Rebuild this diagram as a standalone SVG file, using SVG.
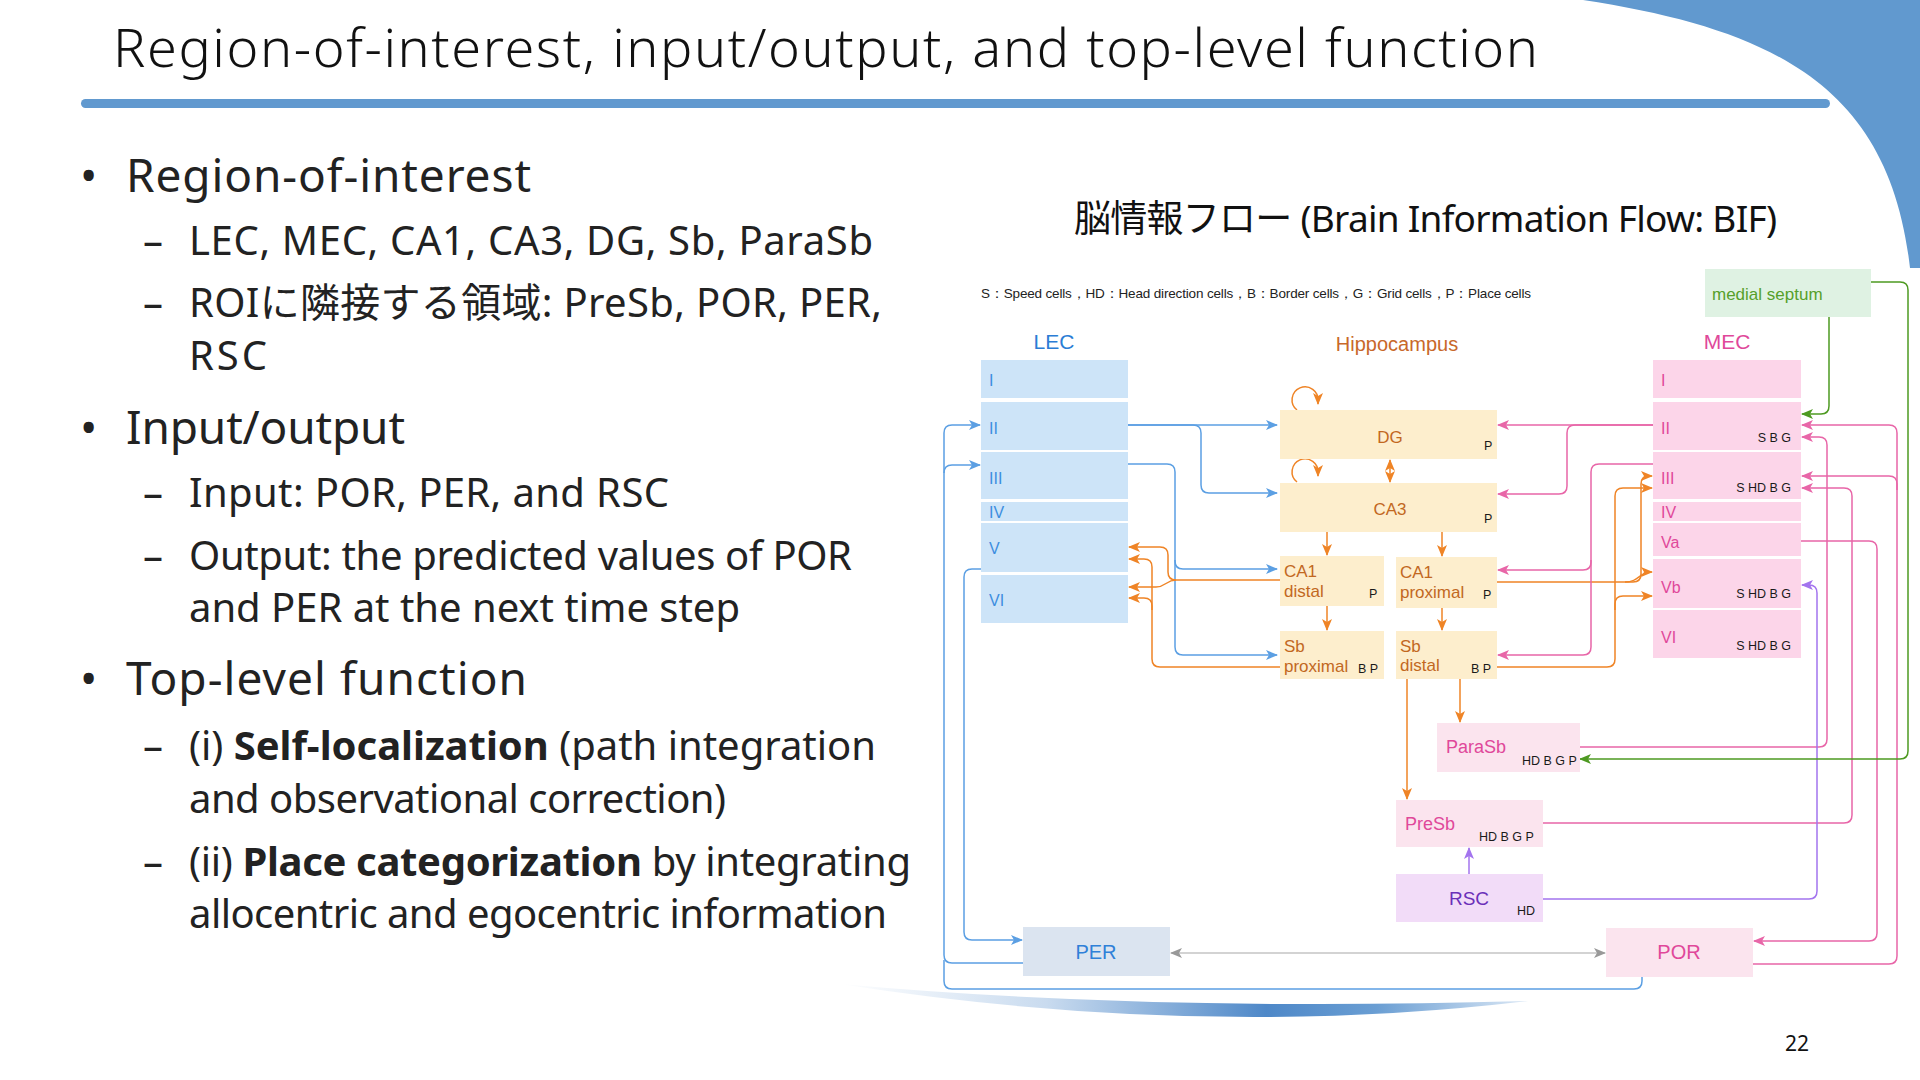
<svg xmlns="http://www.w3.org/2000/svg" width="1920" height="1080" viewBox="0 0 1920 1080">
<style>
.ttl{font-family:"Noto Sans","Noto Sans CJK JP",sans-serif;fill:#111}
.l1{font-family:"Noto Sans","Noto Sans CJK JP",sans-serif;font-size:46px;fill:#222}
.l2{font-family:"Noto Sans","Noto Sans CJK JP",sans-serif;font-size:40px;fill:#222}
.d{font-family:"Liberation Sans",Arial,sans-serif}
.lecT{font-size:16px;fill:#3d8ee0}
.mecT{font-size:16px;fill:#e0489a}
.hipT{font-size:17px;fill:#c2681f}
.ct{font-size:12.5px;fill:#1a1a1a}
.c{fill:none;stroke-width:1.5}
.cb{stroke:#5b9fe3;marker-end:url(#ab)}
.co{stroke:#ef8426;marker-end:url(#ao)}
.cp{stroke:#e866a8;marker-end:url(#ap)}
.cg{stroke:#4e9a22;marker-end:url(#ag)}
.cu{stroke:#a374ee;marker-end:url(#au)}
.nm{fill:none}
</style>
<defs>
<marker id="ab" viewBox="0 0 12 10" refX="11" refY="5" markerWidth="12" markerHeight="10" markerUnits="userSpaceOnUse" orient="auto"><path d="M0,0 L12,5 L0,10 L3,5 Z" fill="#5b9fe3"/></marker>
<marker id="ao" viewBox="0 0 12 10" refX="11" refY="5" markerWidth="12" markerHeight="10" markerUnits="userSpaceOnUse" orient="auto-start-reverse"><path d="M0,0 L12,5 L0,10 L3,5 Z" fill="#ef8426"/></marker>
<marker id="ap" viewBox="0 0 12 10" refX="11" refY="5" markerWidth="12" markerHeight="10" markerUnits="userSpaceOnUse" orient="auto"><path d="M0,0 L12,5 L0,10 L3,5 Z" fill="#e866a8"/></marker>
<marker id="ag" viewBox="0 0 12 10" refX="11" refY="5" markerWidth="12" markerHeight="10" markerUnits="userSpaceOnUse" orient="auto"><path d="M0,0 L12,5 L0,10 L3,5 Z" fill="#4e9a22"/></marker>
<marker id="au" viewBox="0 0 12 10" refX="11" refY="5" markerWidth="12" markerHeight="10" markerUnits="userSpaceOnUse" orient="auto"><path d="M0,0 L12,5 L0,10 L3,5 Z" fill="#a374ee"/></marker>
<marker id="ay" viewBox="0 0 12 10" refX="11" refY="5" markerWidth="12" markerHeight="10" markerUnits="userSpaceOnUse" orient="auto-start-reverse"><path d="M0,0 L12,5 L0,10 L3,5 Z" fill="#999"/></marker>
<linearGradient id="sw" x1="840" y1="0" x2="1528" y2="0" gradientUnits="userSpaceOnUse">
<stop offset="0" stop-color="#ffffff"/>
<stop offset="0.3" stop-color="#c9dbef"/>
<stop offset="0.62" stop-color="#4e88c8"/>
<stop offset="0.78" stop-color="#6a9ed3"/>
<stop offset="1" stop-color="#dce8f5"/>
</linearGradient>
</defs>

<!-- slide decoration -->
<g id="decor">
<path d="M1583,0 C1780,30 1890,90 1910,268 L1920,268 L1920,0 Z" fill="#6199cf"/>
<rect x="81" y="99" width="1749" height="9" rx="4.5" fill="#6199cf"/>
<path d="M840,984 Q1150,1012 1528,1001 Q1200,1040 840,984 Z" fill="url(#sw)"/>
</g>

<!-- title and text -->
<g id="title">
<text class="ttl" x="113" y="67" font-size="54" font-weight="300" textLength="1425">Region-of-interest, input/output, and top-level function</text>
</g>
<g id="bullets">
<text class="l1" x="80" y="192">•</text>
<text class="l1" x="126" y="192" textLength="405">Region-of-interest</text>
<text class="l2" x="143" y="255">–</text>
<text class="l2" x="189" y="255" textLength="684">LEC, MEC, CA1, CA3, DG, Sb, ParaSb</text>
<text class="l2" x="143" y="317">–</text>
<text class="l2" x="189" y="317" textLength="693">ROIに隣接する領域: PreSb, POR, PER,</text>
<text class="l2" x="189" y="370" textLength="78">RSC</text>
<text class="l1" x="80" y="444">•</text>
<text class="l1" x="126" y="444" textLength="279">Input/output</text>
<text class="l2" x="143" y="507">–</text>
<text class="l2" x="189" y="507" textLength="480">Input: POR, PER, and RSC</text>
<text class="l2" x="143" y="570">–</text>
<text class="l2" x="189" y="570" textLength="663">Output: the predicted values of POR</text>
<text class="l2" x="189" y="622" textLength="551">and PER at the next time step</text>
<text class="l1" x="80" y="695">•</text>
<text class="l1" x="126" y="695" textLength="401">Top-level function</text>
<text class="l2" x="143" y="760">–</text>
<text class="l2" x="189" y="760" textLength="687">(i) <tspan font-weight="bold">Self-localization</tspan> (path integration</text>
<text class="l2" x="189" y="813" textLength="537">and observational correction)</text>
<text class="l2" x="143" y="876">–</text>
<text class="l2" x="189" y="876" textLength="722">(ii) <tspan font-weight="bold">Place categorization</tspan> by integrating</text>
<text class="l2" x="189" y="928" textLength="698">allocentric and egocentric information</text>
<text class="ttl" x="1074" y="232" font-size="37" textLength="703">脳情報フロー (Brain Information Flow: BIF)</text>
<text class="ttl" x="1797" y="1051" font-size="21" text-anchor="middle">22</text>
</g>

<!-- legend -->
<g id="legend">
<text class="d" x="981" y="298" font-size="13.5" fill="#222" textLength="550" font-family="'Liberation Sans','Noto Sans CJK SC',sans-serif">S：Speed cells，HD：Head direction cells，B：Border cells，G：Grid cells，P：Place cells</text>
</g>

<!-- connectors -->
<g id="connectors">
<!-- blue: LEC to hippocampus -->
<path class="c cb" d="M1128,425 H1277"/>
<path class="c cb" d="M1128,425 H1193 Q1201,425 1201,433 V485 Q1201,493 1209,493 H1277"/>
<path class="c cb" d="M1128,464 H1167 Q1175,464 1175,472 V561 Q1175,569 1183,569 H1277"/>
<path class="c cb" d="M1175,560 V647 Q1175,655 1183,655 H1277"/>
<!-- blue: PER / POR to LEC -->
<path class="c cb" d="M1023,963 H952 Q944,963 944,955 V433 Q944,425 952,425 H980"/>
<path class="c cb" d="M944,473 Q944,465 952,465 H980"/>
<path class="c nm" stroke="#5b9fe3" d="M1642,977 V981 Q1642,989 1634,989 H952 Q944,989 944,981 V960"/>
<!-- blue: LEC V to PER -->
<path class="c cb" d="M981,569 H972 Q964,569 964,577 V932 Q964,940 972,940 H1022"/>
<!-- gray PER <-> POR -->
<path fill="none" stroke="#c4c4c4" stroke-width="1.4" marker-start="url(#ay)" marker-end="url(#ay)" d="M1171,953 H1605"/>

<!-- orange: hippocampus internal -->
<path class="c co" d="M1297,410 A13,13 0 1 1 1318,401 L1318,404"/>
<path class="c co" d="M1297,482 A13,13 0 1 1 1318,473 L1318,476"/>
<path class="c co" marker-start="url(#ao)" d="M1390,460 V482"/>
<path class="c co" d="M1327,532 V555"/>
<path class="c co" d="M1442,532 V556"/>
<path class="c co" d="M1327,606 V630"/>
<path class="c co" d="M1442,608 V630"/>
<path class="c co" d="M1460,679 V722"/>
<path class="c co" d="M1407,679 V799"/>
<!-- orange: to LEC -->
<path class="c co" d="M1280,580 H1176 Q1168,580 1168,572 V555 Q1168,547 1160,547 H1129"/>
<path class="c co" d="M1176,580 C1166,580 1166,587 1156,587 H1129"/>
<path class="c co" d="M1280,667 H1160 Q1152,667 1152,659 V567 Q1152,559 1144,559 H1129"/>
<path class="c co" d="M1152,610 V606 Q1152,598 1144,598 H1129"/>
<!-- orange: to MEC -->
<path class="c co" d="M1497,582 H1633 Q1641,582 1641,574 V484 Q1641,476 1649,476 H1652"/>
<path class="c co" d="M1625,582 C1640,582 1638,572 1652,572"/>
<path class="c co" d="M1497,667 H1607 Q1615,667 1615,659 V496 Q1615,488 1623,488 H1652"/>
<path class="c co" d="M1615,610 V604 Q1615,596 1623,596 H1652"/>

<!-- pink -->
<path class="c cp" d="M1653,425 H1498"/>
<path class="c cp" d="M1653,425 H1575 Q1567,425 1567,433 V486 Q1567,494 1559,494 H1498"/>
<path class="c cp" d="M1653,464 H1599 Q1591,464 1591,472 V562 Q1591,570 1583,570 H1498"/>
<path class="c cp" d="M1591,560 V647 Q1591,655 1583,655 H1498"/>
<path class="c cp" d="M1579,747 H1819 Q1827,747 1827,739 V445 Q1827,437 1819,437 H1802"/>
<path class="c cp" d="M1543,823 H1844 Q1852,823 1852,815 V496 Q1852,488 1844,488 H1802"/>
<path class="c cp" d="M1801,541 H1869 Q1877,541 1877,549 V933 Q1877,941 1869,941 H1754"/>
<path class="c cp" d="M1753,964 H1889 Q1897,964 1897,956 V433 Q1897,425 1889,425 H1802"/>
<path class="c cp" d="M1897,490 V484 Q1897,476 1889,476 H1802"/>
<!-- purple -->
<path class="c cu" d="M1543,899 H1809 Q1817,899 1817,891 V593 Q1817,585 1809,585 H1802"/>
<path class="c cu" d="M1469,874 V848"/>
<!-- green -->
<path class="c cg" d="M1829,317 V406 Q1829,414 1821,414 H1802"/>
<path class="c cg" d="M1871,282 H1900 Q1908,282 1908,290 V751 Q1908,759 1900,759 H1580"/>
</g>

<!-- LEC -->
<g id="lec" class="d">
<text x="1054" y="349" font-size="21" fill="#2b7dd5" text-anchor="middle">LEC</text>
<g fill="#cde4f8">
<rect x="981" y="360" width="147" height="38"/>
<rect x="981" y="402" width="147" height="48"/>
<rect x="981" y="452" width="147" height="47"/>
<rect x="981" y="502" width="147" height="19"/>
<rect x="981" y="523" width="147" height="49"/>
<rect x="981" y="575" width="147" height="48"/>
</g>
<text class="lecT" x="989" y="386">I</text>
<text class="lecT" x="989" y="434">II</text>
<text class="lecT" x="989" y="484">III</text>
<text class="lecT" x="989" y="518">IV</text>
<text class="lecT" x="989" y="554">V</text>
<text class="lecT" x="989" y="606">VI</text>
</g>

<!-- Hippocampus -->
<g id="hippocampus" class="d">
<text x="1397" y="351" font-size="20" fill="#c8682a" text-anchor="middle">Hippocampus</text>
</g>
<g id="dg" class="d">
<rect x="1280" y="410" width="217" height="49" fill="#fdeecd"/>
<text class="hipT" x="1390" y="443" font-size="18" text-anchor="middle">DG</text>
<text class="ct" x="1484" y="450">P</text>
</g>
<g id="ca3" class="d">
<rect x="1280" y="483" width="217" height="49" fill="#fdeecd"/>
<text class="hipT" x="1390" y="515" font-size="18" text-anchor="middle">CA3</text>
<text class="ct" x="1484" y="523">P</text>
</g>
<g id="ca1-distal" class="d">
<rect x="1280" y="556" width="104" height="50" fill="#fdeecd"/>
<text class="hipT" x="1284" y="577">CA1</text>
<text class="hipT" x="1284" y="597">distal</text>
<text class="ct" x="1369" y="598">P</text>
</g>
<g id="sb-proximal" class="d">
<rect x="1280" y="631" width="104" height="48" fill="#fdeecd"/>
<text class="hipT" x="1284" y="652">Sb</text>
<text class="hipT" x="1284" y="672">proximal</text>
<text class="ct" x="1358" y="673">B P</text>
</g>
<g id="ca1-proximal" class="d">
<rect x="1396" y="557" width="101" height="51" fill="#fdeecd"/>
<text class="hipT" x="1400" y="578">CA1</text>
<text class="hipT" x="1400" y="598">proximal</text>
<text class="ct" x="1483" y="599">P</text>
</g>
<g id="sb-distal" class="d">
<rect x="1396" y="631" width="101" height="48" fill="#fdeecd"/>
<text class="hipT" x="1400" y="652">Sb</text>
<text class="hipT" x="1400" y="671">distal</text>
<text class="ct" x="1471" y="673">B P</text>
</g>

<!-- MEC -->
<g id="mec" class="d">
<text x="1727" y="349" font-size="21" fill="#e0489a" text-anchor="middle">MEC</text>
<g fill="#fcd5e9">
<rect x="1653" y="360" width="148" height="38"/>
<rect x="1653" y="402" width="148" height="48"/>
<rect x="1653" y="452" width="148" height="47"/>
<rect x="1653" y="502" width="148" height="19"/>
<rect x="1653" y="523" width="148" height="33"/>
<rect x="1653" y="559" width="148" height="49"/>
<rect x="1653" y="610" width="148" height="48"/>
</g>
<text class="mecT" x="1661" y="386">I</text>
<text class="mecT" x="1661" y="434">II</text>
<text class="mecT" x="1661" y="484">III</text>
<text class="mecT" x="1661" y="518">IV</text>
<text class="mecT" x="1661" y="548">Va</text>
<text class="mecT" x="1661" y="593">Vb</text>
<text class="mecT" x="1661" y="643">VI</text>
<text class="ct" x="1791" y="442" text-anchor="end">S B G</text>
<text class="ct" x="1791" y="492" text-anchor="end">S HD B G</text>
<text class="ct" x="1791" y="598" text-anchor="end">S HD B G</text>
<text class="ct" x="1791" y="650" text-anchor="end">S HD B G</text>
</g>

<g id="medial-septum" class="d">
<rect x="1705" y="269" width="166" height="48" fill="#dff2e3"/>
<text x="1712" y="300" font-size="17" fill="#56a02a">medial septum</text>
</g>

<g id="parasb" class="d">
<rect x="1437" y="723" width="143" height="49" fill="#fbe4ee"/>
<text x="1446" y="753" font-size="18" fill="#e0489a">ParaSb</text>
<text class="ct" x="1522" y="765">HD B G P</text>
</g>
<g id="presb" class="d">
<rect x="1396" y="800" width="147" height="47" fill="#fbe4ee"/>
<text x="1405" y="830" font-size="18" fill="#e0489a">PreSb</text>
<text class="ct" x="1479" y="841">HD B G P</text>
</g>
<g id="rsc" class="d">
<rect x="1396" y="874" width="147" height="48" fill="#f2dcf8"/>
<text x="1469" y="905" font-size="19" fill="#6b2fb8" text-anchor="middle">RSC</text>
<text class="ct" x="1517" y="915">HD</text>
</g>
<g id="per" class="d">
<rect x="1023" y="927" width="147" height="49" fill="#dbe4f0"/>
<text x="1096" y="959" font-size="20" fill="#2f80d8" text-anchor="middle">PER</text>
</g>
<g id="por" class="d">
<rect x="1606" y="928" width="147" height="49" fill="#fbe4ee"/>
<text x="1679" y="959" font-size="20" fill="#e0489a" text-anchor="middle">POR</text>
</g>
</svg>
